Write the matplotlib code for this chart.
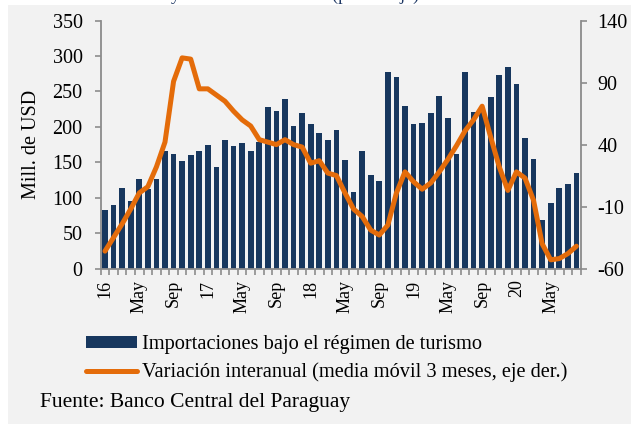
import matplotlib
matplotlib.use("Agg")
import matplotlib.pyplot as plt
import numpy as np
from matplotlib.patches import Rectangle, Patch
from matplotlib.lines import Line2D

# ---- data (monthly, Jan 2016 .. Aug 2020) ----
importaciones = [
    83, 89, 114, 95, 127, 112, 127, 166, 162, 152, 160, 166,      # 2016
    174, 143, 181, 173, 177, 166, 179, 228, 222, 240, 201, 219,   # 2017
    204, 191, 181, 196, 153, 108, 166, 132, 123, 277, 270, 230,   # 2018
    204, 205, 220, 244, 212, 162, 277, 221, 228, 242, 273, 285,   # 2019
    261, 184, 154, 69, 93, 113, 120, 135,                          # 2020
]
variacion = [
    -46, -35, -24, -12, 1, 6, 22, 42, 91, 110, 109, 85,
    85, 80, 75, 67, 60, 55, 44, 42, 40, 44, 40, 38,
    25, 27, 17, 15, 1, -12, -18, -29, -33, -25, 1, 18,
    10, 4, 9, 18, 28, 39, 51, 60, 71, 46, 22, 3,
    18, 13, -5, -40, -53, -52, -48, -42,
]
tick_labels = ["16", "May", "Sep", "17", "May", "Sep", "18", "May", "Sep",
               "19", "May", "Sep", "20", "May"]
left_ticks = [0, 50, 100, 150, 200, 250, 300, 350]
right_ticks = [-60, -10, 40, 90, 140]

NAVY = "#17375e"
ORANGE = "#e46c0a"
GRAY = "#8c8c8c"
BG = "#f2f2f2"
FONT = "Liberation Serif"

plt.rcParams["font.family"] = [FONT, "DejaVu Serif"]
plt.rcParams["axes.unicode_minus"] = False

W, H = 631, 424
fig = plt.figure(figsize=(W / 100, H / 100), dpi=100, facecolor="white")

# gray panel
fig.patches.append(Rectangle((8 / W, 0), 1 - 8 / W, 1 - 5 / H,
                             transform=fig.transFigure, facecolor=BG,
                             edgecolor="none", zorder=-10))

# title line above the crop (only descenders visible, as in the reference)
fig.text(171 / W, 1 + 0.5 / H, "y variación interanual (porcentaje)",
         fontsize=13, color="#1f3864", ha="left", va="baseline")

left, right = 100.7, 580.7
top, bottom = 20.7, 268.5
ax = fig.add_axes([left / W, 1 - bottom / H, (right - left) / W, (bottom - top) / H])
ax.set_facecolor("none")

x = np.arange(len(importaciones))
ax.bar(x, importaciones, width=0.66, color=NAVY, zorder=2)
ax.set_xlim(-0.5, len(importaciones) - 0.5)
ax.set_ylim(0, 350)
ax.set_yticks(left_ticks)

ax2 = ax.twinx()
ax2.plot(x, variacion, color=ORANGE, lw=3.6, solid_capstyle="round",
         solid_joinstyle="round", zorder=3)
ax2.set_ylim(-60, 140)
ax2.set_yticks(right_ticks)

for a in (ax, ax2):
    for s in a.spines.values():
        s.set_visible(False)

ax.spines["left"].set_visible(True)
ax.spines["bottom"].set_visible(True)
ax2.spines["right"].set_visible(True)
for s in (ax.spines["left"], ax.spines["bottom"], ax2.spines["right"]):
    s.set_color(GRAY)
    s.set_linewidth(1.3)

ax.tick_params(axis="y", direction="out", length=4, width=1.2, color=GRAY,
               labelsize=14.5, pad=9)
ax2.tick_params(axis="y", direction="out", length=4, width=1.2, color=GRAY,
                labelsize=14.5, pad=8)

# x axis: category-boundary ticks (minor), labels at month positions
ax.set_xticks(np.arange(0, len(importaciones), 4))
ax.set_xticklabels(tick_labels, rotation=90, fontsize=13)
ax.set_xticks(np.arange(-0.5, len(importaciones), 1), minor=True)
ax.tick_params(axis="x", which="major", length=0, pad=8)
ax.tick_params(axis="x", which="minor", length=4, width=1.2, color=GRAY,
               direction="out")

ax.set_ylabel("Mill. de USD", fontsize=14.5)
ax.yaxis.set_label_coords(-0.124, 0.5)

# legend
handles = [Patch(facecolor=NAVY, edgecolor="none"),
           Line2D([0], [0], color=ORANGE, lw=3.6, solid_capstyle="round")]
labels = ["Importaciones bajo el régimen de turismo",
          "Variación interanual (media móvil 3 meses, eje der.)"]
fig.legend(handles, labels, loc="upper left",
           bbox_to_anchor=(78 / W, 1 - 327 / H), frameon=False,
           fontsize=14.7, handlelength=2.5, handleheight=0.55,
           handletextpad=0.25, labelspacing=0.42, borderaxespad=0)

fig.text(40 / W, 1 - 402 / H, "Fuente: Banco Central del Paraguay",
         fontsize=15.5, ha="left", va="center")

fig.savefig("out.png", dpi=100, facecolor=fig.get_facecolor())
